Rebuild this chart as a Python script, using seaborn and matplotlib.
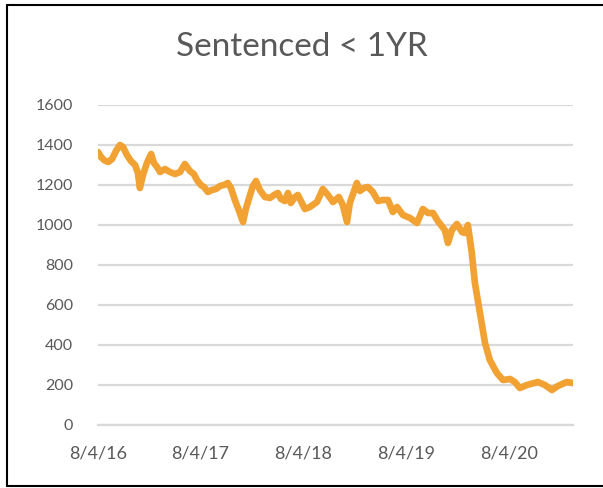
import matplotlib
matplotlib.use("Agg")
import matplotlib.pyplot as plt
from matplotlib.lines import Line2D
import pandas as pd
import seaborn as sns

# Daily population of people sentenced to less than one year
dates = [
    "2016-08-04", "2016-08-15", "2016-08-25", "2016-09-09", "2016-09-23", "2016-10-07",
    "2016-10-21", "2016-11-01", "2016-11-15", "2016-11-29", "2016-12-14", "2016-12-24",
    "2016-12-31", "2017-01-11", "2017-01-25", "2017-02-09", "2017-02-19", "2017-03-02",
    "2017-03-13", "2017-03-30", "2017-04-17", "2017-05-05", "2017-05-23", "2017-06-09",
    "2017-06-27", "2017-07-11", "2017-07-22", "2017-08-05", "2017-08-16", "2017-08-30",
    "2017-09-13", "2017-09-28", "2017-10-12", "2017-10-26", "2017-11-09", "2017-11-20",
    "2017-12-04", "2017-12-19", "2018-01-02", "2018-01-12", "2018-01-27", "2018-02-06",
    "2018-02-17", "2018-03-03", "2018-03-21", "2018-04-08", "2018-04-22", "2018-05-06",
    "2018-05-17", "2018-05-31", "2018-06-11", "2018-06-21", "2018-07-06", "2018-07-16",
    "2018-07-27", "2018-08-10", "2018-08-28", "2018-09-22", "2018-10-13", "2018-10-31",
    "2018-11-18", "2018-12-09", "2018-12-23", "2019-01-07", "2019-01-17", "2019-02-01",
    "2019-02-11", "2019-02-22", "2019-03-08", "2019-03-22", "2019-04-09", "2019-04-27",
    "2019-05-15", "2019-06-02", "2019-06-19", "2019-07-04", "2019-07-25", "2019-08-19",
    "2019-09-13", "2019-10-04", "2019-10-22", "2019-11-09", "2019-11-26", "2019-12-21",
    "2020-01-01", "2020-01-15", "2020-02-02", "2020-02-20", "2020-03-01", "2020-03-12",
    "2020-03-26", "2020-04-06", "2020-04-24", "2020-05-12", "2020-05-29", "2020-06-23",
    "2020-07-15", "2020-08-09", "2020-08-26", "2020-09-13", "2020-10-08", "2020-11-16",
    "2020-12-11", "2021-01-05", "2021-01-26", "2021-02-27", "2021-03-21",
]
population = [
    1365, 1340, 1325, 1315, 1330, 1370,
    1400, 1390, 1350, 1320, 1300, 1260,
    1185, 1250, 1310, 1355, 1310, 1290,
    1265, 1280, 1265, 1255, 1265, 1305,
    1270, 1255, 1225, 1200, 1190, 1165,
    1175, 1180, 1195, 1200, 1210, 1185,
    1125, 1070, 1015, 1080, 1150, 1195,
    1220, 1175, 1140, 1135, 1150, 1160,
    1130, 1120, 1160, 1110, 1140, 1150,
    1120, 1080, 1090, 1115, 1180, 1150,
    1115, 1140, 1100, 1015, 1110, 1170,
    1210, 1170, 1185, 1190, 1165, 1120,
    1125, 1125, 1065, 1090, 1050, 1035,
    1010, 1080, 1060, 1060, 1020, 975,
    910, 975, 1005, 965, 960, 1000,
    860, 710, 560, 410, 325, 260,
    225, 230, 215, 185, 200, 215,
    200, 175, 195, 215, 210,
]
tick_dates = ["2016-08-04", "2017-08-04", "2018-08-04", "2019-08-04", "2020-08-04"]
tick_labels = ["8/4/16", "8/4/17", "8/4/18", "8/4/19", "8/4/20"]
y_ticks = [0, 200, 400, 600, 800, 1000, 1200, 1400, 1600]
title = "Sentenced < 1YR"

df = pd.DataFrame({"date": pd.to_datetime(dates), "population": population})

sns.set_theme(style="white")
plt.rcParams["font.family"] = ["Lato", "DejaVu Sans"]

text_color = "#595959"
grid_color = "#D9D9D9"
line_color = "#F1A233"

fig = plt.figure(figsize=(6.03, 4.88), dpi=100)
ax = fig.add_axes([98 / 603, 1 - 425 / 488, (573 - 98) / 603, (425 - 105) / 488])

sns.lineplot(data=df, x="date", y="population", ax=ax, color=line_color,
             linewidth=4.8, solid_capstyle="round", solid_joinstyle="round", zorder=3)

ax.set_xlim(df["date"].iloc[0], df["date"].iloc[-1])
ax.set_ylim(0, 1600)
ax.set_yticks(y_ticks)
ax.set_yticklabels([str(v) for v in y_ticks])
ax.set_xticks(pd.to_datetime(tick_dates))
ax.set_xticklabels(tick_labels)

ax.yaxis.grid(True, color=grid_color, linewidth=1.6)
ax.set_axisbelow(True)
for side in ["top", "right", "left"]:
    ax.spines[side].set_visible(False)
ax.spines["bottom"].set_color(grid_color)
ax.spines["bottom"].set_linewidth(1.6)

ax.tick_params(axis="y", which="major", length=0, pad=18, labelsize=11.5,
               labelcolor=text_color)
ax.tick_params(axis="x", which="major", length=5, width=1.6, color=grid_color,
               direction="out", pad=10, labelsize=13, labelcolor=text_color)
ax.set_xlabel("")
ax.set_ylabel("")

fig.text(0.5, 1 - 47 / 488, title, ha="center", va="center",
         fontsize=24, color=text_color)

# Frame around the chart (open on the right side)
frame_kw = dict(color="black", linewidth=1.5, transform=fig.transFigure)
fig.add_artist(Line2D([7 / 603, 7 / 603], [1 - 5 / 488, 1 - 486 / 488], **frame_kw))
fig.add_artist(Line2D([7 / 603, 1.0], [1 - 5 / 488, 1 - 5 / 488], **frame_kw))
fig.add_artist(Line2D([7 / 603, 1.0], [1 - 486 / 488, 1 - 486 / 488], **frame_kw))

fig.savefig("out.png", dpi=100, facecolor="white")
